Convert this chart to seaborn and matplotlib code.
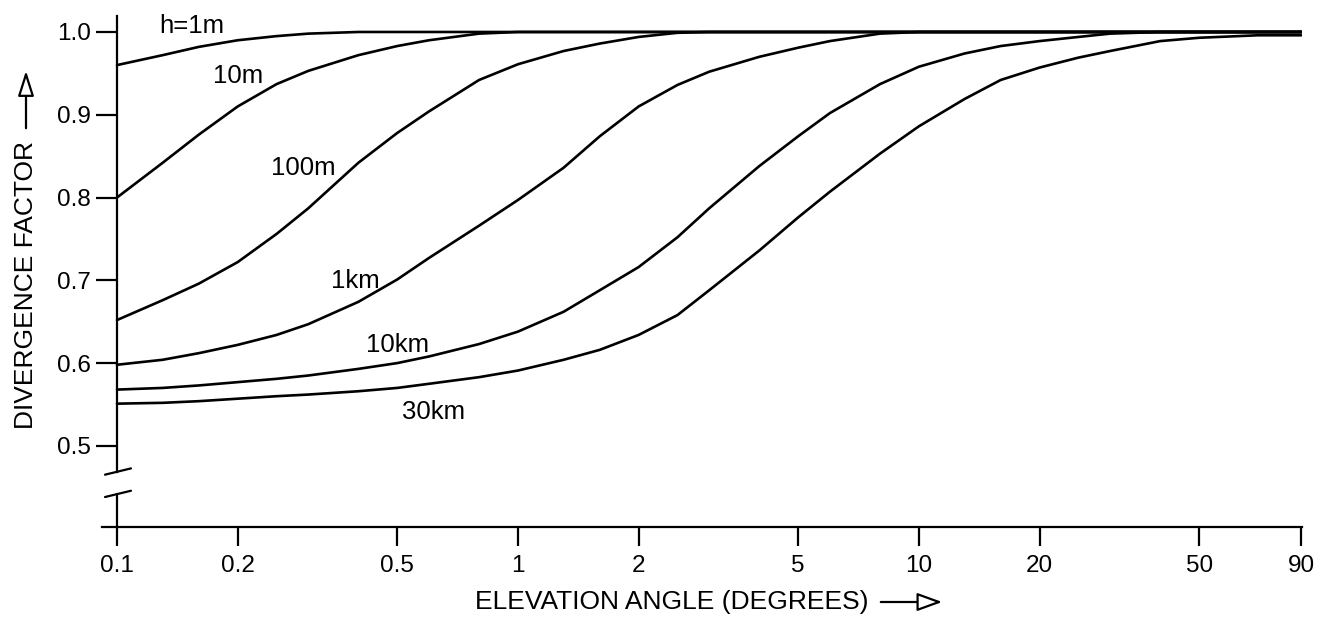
import numpy as np
import pandas as pd
import matplotlib
matplotlib.use("Agg")
import matplotlib.pyplot as plt
import seaborn as sns

# Elevation angle grid (degrees) shared by all curves
elevation = [0.1, 0.13, 0.16, 0.2, 0.25, 0.3, 0.4, 0.5, 0.6, 0.8,
             1.0, 1.3, 1.6, 2.0, 2.5, 3.0, 4.0, 5.0, 6.0, 8.0,
             10, 13, 16, 20, 25, 30, 40, 50, 70, 90]

# Divergence factor for each antenna height
div_1m = [0.960, 0.972, 0.982, 0.990, 0.995, 0.998, 1.0, 1.0, 1.0, 1.0,
          1.0, 1.0, 1.0, 1.0, 1.0, 1.0, 1.0, 1.0, 1.0, 1.0,
          1.0, 1.0, 1.0, 1.0, 1.0, 1.0, 1.0, 1.0, 1.0, 1.0]
div_10m = [0.800, 0.842, 0.876, 0.910, 0.937, 0.953, 0.972, 0.983, 0.990, 0.998,
           1.0, 1.0, 1.0, 1.0, 1.0, 1.0, 1.0, 1.0, 1.0, 1.0,
           1.0, 1.0, 1.0, 1.0, 1.0, 1.0, 1.0, 1.0, 1.0, 1.0]
div_100m = [0.652, 0.676, 0.696, 0.722, 0.756, 0.787, 0.842, 0.878, 0.904, 0.942,
            0.961, 0.977, 0.986, 0.994, 0.999, 1.0, 1.0, 1.0, 1.0, 1.0,
            1.0, 1.0, 1.0, 1.0, 1.0, 1.0, 1.0, 1.0, 1.0, 1.0]
div_1km = [0.598, 0.604, 0.612, 0.622, 0.634, 0.647, 0.674, 0.701, 0.727, 0.766,
           0.797, 0.836, 0.874, 0.910, 0.936, 0.952, 0.970, 0.981, 0.989, 0.998,
           1.0, 1.0, 1.0, 1.0, 1.0, 1.0, 1.0, 1.0, 1.0, 1.0]
div_10km = [0.568, 0.570, 0.573, 0.577, 0.581, 0.585, 0.593, 0.600, 0.608, 0.623,
            0.638, 0.662, 0.688, 0.716, 0.752, 0.787, 0.838, 0.874, 0.902, 0.937,
            0.958, 0.974, 0.983, 0.989, 0.994, 0.998, 1.0, 1.0, 1.0, 1.0]
div_30km = [0.551, 0.552, 0.554, 0.557, 0.560, 0.562, 0.566, 0.570, 0.575, 0.583,
            0.591, 0.604, 0.616, 0.634, 0.658, 0.688, 0.736, 0.776, 0.807, 0.853,
            0.886, 0.919, 0.942, 0.957, 0.969, 0.977, 0.989, 0.993, 0.996, 0.996]

heights = ["h=1m", "10m", "100m", "1km", "10km", "30km"]
series = [div_1m, div_10m, div_100m, div_1km, div_10km, div_30km]

x_ticks = [0.1, 0.2, 0.5, 1, 2, 5, 10, 20, 50, 90]
x_tick_labels = ["0.1", "0.2", "0.5", "1", "2", "5", "10", "20", "50", "90"]
y_ticks = [0.5, 0.6, 0.7, 0.8, 0.9, 1.0]
y_tick_labels = ["0.5", "0.6", "0.7", "0.8", "0.9", "1.0"]

# Curve label anchors (angle, factor at the text baseline)
label_pos = {
    "h=1m": (0.154, 0.9988),
    "10m": (0.200, 0.9384),
    "100m": (0.291, 0.8273),
    "1km": (0.394, 0.6908),
    "10km": (0.502, 0.6135),
    "30km": (0.617, 0.5326),
}

df = pd.concat(
    [pd.DataFrame({"angle": elevation, "factor": vals, "height": name})
     for name, vals in zip(heights, series)],
    ignore_index=True,
)

sns.set_theme(style="white")
plt.rcParams["font.family"] = ["Liberation Sans", "DejaVu Sans"]
plt.rcParams["text.color"] = "black"
plt.rcParams["xtick.color"] = "black"
plt.rcParams["ytick.color"] = "black"

W, H = 1327, 622
fig = plt.figure(figsize=(W / 100, H / 100), dpi=100)
ax = fig.add_axes([102 / W, 1 - 527 / H, 1200 / W, 511 / H])

sns.lineplot(data=df, x="angle", y="factor", hue="height",
             palette=["black"] * len(heights), linewidth=1.9,
             legend=False, ax=ax, sort=False, estimator=None)

ax.set_xscale("log")
ax.set_xlim(0.1 * 10 ** (-15 / 401), 90.3)
ax.set_ylim(0.402, 1.0193)

ax.set_xticks(x_ticks)
ax.set_xticklabels(x_tick_labels)
ax.xaxis.set_minor_locator(matplotlib.ticker.NullLocator())
ax.set_yticks(y_ticks)
ax.set_yticklabels(y_tick_labels)
ax.set_xlabel("")
ax.set_ylabel("")

for s in ["top", "right"]:
    ax.spines[s].set_visible(False)
for s in ["left", "bottom"]:
    ax.spines[s].set_color("black")
    ax.spines[s].set_linewidth(1.6)
ax.spines["left"].set_position(("data", 0.1))
ax.spines["left"].set_bounds(0.469, 1.0193)

ax.tick_params(axis="x", direction="out", length=13.5, width=1.6, color="black",
               labelsize=17.5, pad=7, bottom=True)
ax.tick_params(axis="y", direction="out", length=15, width=1.6, color="black",
               labelsize=17.5, pad=4, left=True)

# Lower stub of the broken y-axis and the break marks
ax.plot([0.1, 0.1], [0.402, 0.442], color="black", lw=1.6, clip_on=False)
xl = 0.1 * 10 ** (-12 / 401)
xr = 0.1 * 10 ** (14 / 401)
for yb in (0.469, 0.442):
    ax.plot([xl, xr], [yb - 0.0038, yb + 0.0038], color="black", lw=1.6,
            clip_on=False)

for name, (lx, ly) in label_pos.items():
    ax.text(lx, ly, name, fontsize=18.5, ha="center", va="baseline")

# Axis titles with arrows
fig.text(672 / W, 1 - 602 / H, "ELEVATION ANGLE (DEGREES)", fontsize=19,
         ha="center", va="center")
fig.add_artist(matplotlib.patches.FancyArrowPatch(
    (878 / W, 1 - 602 / H), (945 / W, 1 - 602 / H),
    transform=fig.transFigure, arrowstyle="-|>,head_length=1.1,head_width=0.4",
    mutation_scale=14, color="black", lw=1.6, fc="white"))

fig.text(26 / W, 1 - 285 / H, "DIVERGENCE FACTOR", fontsize=19,
         ha="center", va="center", rotation=90)
fig.add_artist(matplotlib.patches.FancyArrowPatch(
    (26 / W, 1 - 131 / H), (26 / W, 1 - 68 / H),
    transform=fig.transFigure, arrowstyle="-|>,head_length=1.1,head_width=0.35",
    mutation_scale=14, color="black", lw=1.6, fc="white"))

fig.savefig("out.png", dpi=100, facecolor="white")
